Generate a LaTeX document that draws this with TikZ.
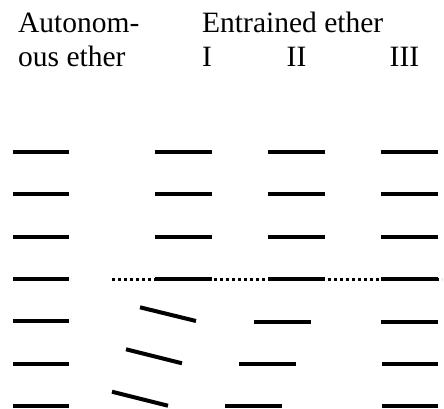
\documentclass[tikz,border=0pt]{standalone}
\usepackage{fontspec}
\setmainfont{Liberation Serif}
\begin{document}
\begin{tikzpicture}[x=1pt,y=-1pt,
  bar/.style={line width=4pt},
  dotline/.style={line width=3pt,dash pattern=on 3pt off 3pt},
  lbl/.style={anchor=base west,inner sep=0pt,font=\fontsize{29.5}{34}\selectfont}]
\useasboundingbox (0,0) rectangle (444,408);
% labels
\node[lbl] (auto1) at (18,32) {Autonom-};
\node[lbl] (auto2) at (18,66) {ous ether};
\node[lbl] (entr) at (202,32) {Entrained ether};
\node[lbl] (c1) at (202,66) {I};
\node[lbl] (c2) at (286.5,66) {II};
\node[lbl] (c3) at (389.5,66) {III};
% autonomous column
\foreach \y in {152,194,237,279,321,364,406}
  \draw[bar] (13,\y) -- (69,\y);
% dotted line through row 4
\draw[dotline] (112,279) -- (442,279);
% entrained columns, upper rows
\foreach \y in {152,194,237,279}{
  \draw[bar] (155,\y) -- (212,\y);
  \draw[bar] (268,\y) -- (325,\y);
  \draw[bar] (381,\y) -- (438,\y);
}
% column I tilted
\draw[bar] (140,307.3) -- (196,321);
\draw[bar] (126,349.3) -- (182,363.3);
\draw[bar] (112,391.7) -- (168,405.7);
% column II shifted
\draw[bar] (254,321.7) -- (311,321.7);
\draw[bar] (239,363.7) -- (296,363.7);
\draw[bar] (225,406) -- (282,406);
% column III
\draw[bar] (381,321.7) -- (438,321.7);
\draw[bar] (382,363.7) -- (438,363.7);
\draw[bar] (382,406) -- (438,406);
\end{tikzpicture}
\end{document}
